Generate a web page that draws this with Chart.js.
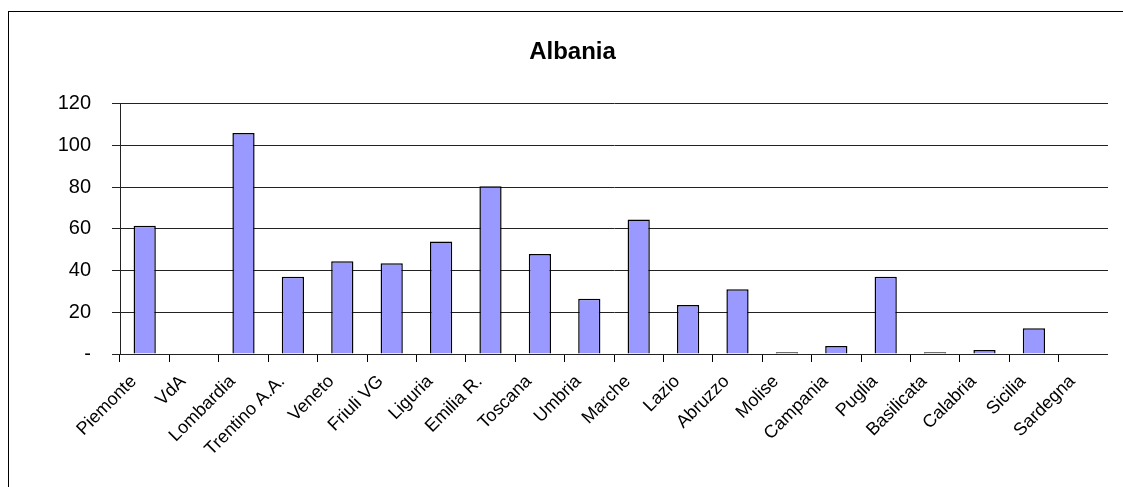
<!DOCTYPE html>
<html>
<head>
<meta charset="utf-8">
<title>Albania</title>
<script src="https://cdn.jsdelivr.net/npm/chart.js@4.4.1/dist/chart.umd.min.js"></script>
<style>
  html, body { margin: 0; padding: 0; background: #fff; overflow: hidden; }
  /* the chart frame is cut off at the right and bottom, only its left and top edges show */
  .edge { position: absolute; background: #000; }
  #topEdge { left: 8px; top: 11px; width: 1115px; height: 1px; }
  #leftEdge { left: 8px; top: 11px; width: 1px; height: 476px; }
  #chart { position: absolute; left: 9px; top: 12px; }
</style>
</head>
<body>
<div class="edge" id="topEdge"></div>
<div class="edge" id="leftEdge"></div>
<canvas id="chart" width="1099" height="475"></canvas>
<script>
// data
const regions = ['Piemonte', 'VdA', 'Lombardia', 'Trentino A.A.', 'Veneto', 'Friuli VG', 'Liguria',
  'Emilia R.', 'Toscana', 'Umbria', 'Marche', 'Lazio', 'Abruzzo', 'Molise', 'Campania', 'Puglia',
  'Basilicata', 'Calabria', 'Sicilia', 'Sardegna'];
const values = [61.5, 0, 106, 37, 44.5, 43.5, 54, 80.5, 48, 26.5, 64.5, 23.5, 31, 0.8, 3.8, 37, 0.8, 1.9, 12.3, 0];
const yTicks = [0, 20, 40, 60, 80, 100, 120];
const chartTitle = 'Albania';

const font = "'Liberation Sans', Arial, sans-serif";

new Chart(document.getElementById('chart'), {
  type: 'bar',
  data: {
    labels: regions,
    datasets: [{ data: values, backgroundColor: '#9999ff', borderColor: '#000', borderWidth: 1.5,
      barPercentage: 0.45, categoryPercentage: 1 }]
  },
  options: {
    responsive: false,
    animation: false,
    layout: { padding: { left: 28, right: 0, top: 0, bottom: 0 } },
    plugins: {
      legend: { display: false },
      tooltip: { enabled: false },
      title: { display: true, text: chartTitle, color: '#000',
        font: { family: font, size: 24, weight: 'bold' }, padding: { top: 26, bottom: 37 } }
    },
    scales: {
      x: {
        grid: { drawOnChartArea: false, color: '#000', tickLength: 8 },
        border: { color: '#222' },
        ticks: { color: '#000', font: { family: font, size: 18 }, minRotation: 45, maxRotation: 45,
          autoSkip: false, padding: 9, labelOffset: -11 },
        afterFit: (s) => { s.height = 133; }
      },
      y: {
        min: 0, max: 120,
        afterBuildTicks: (s) => { s.ticks = yTicks.map(v => ({ value: v })); },
        grid: { color: '#222', tickLength: 8 },
        border: { color: '#222' },
        ticks: { color: '#000', font: { family: font, size: 20 }, padding: 21,
          callback: (v) => v === 0 ? '-' : v },
        afterFit: (s) => { s.width = 83; }
      }
    }
  }
});
</script>
</body>
</html>
